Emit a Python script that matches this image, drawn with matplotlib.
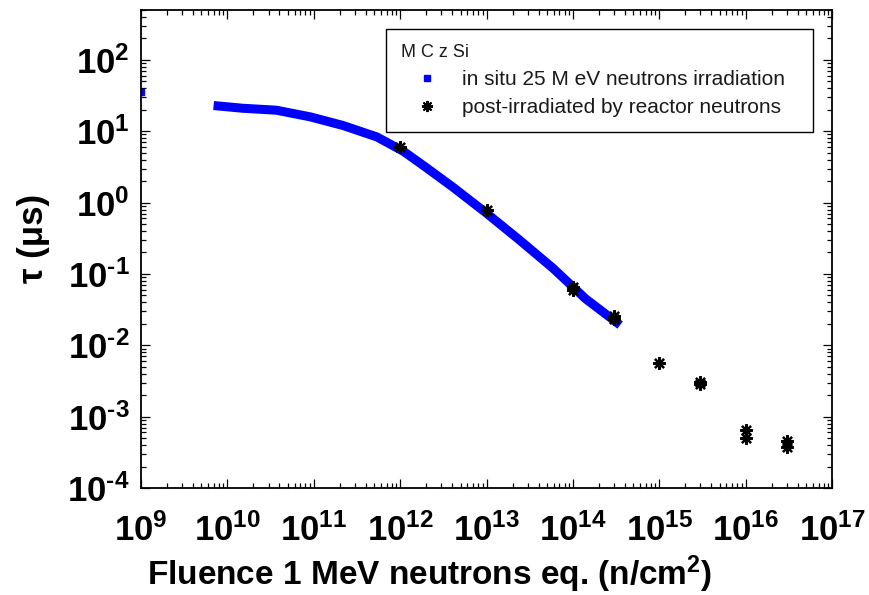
import numpy as np
import matplotlib
matplotlib.use('Agg')
import matplotlib.pyplot as plt
from matplotlib.lines import Line2D
from matplotlib.ticker import LogLocator, NullFormatter, FuncFormatter, FixedLocator

# in situ 25 MeV neutron irradiation
insitu_fluence = [7.8e9, 1.5e10, 3.7e10, 9.1e10, 2.2e11, 5.4e11, 1.1e12, 2.0e12,
                  4.1e12, 1.0e13, 2.4e13, 5.9e13, 1.4e14, 3.2e14]
insitu_tau = [22.6, 21.0, 19.7, 15.9, 12.0, 8.3, 5.2, 3.1,
              1.64, 0.71, 0.30, 0.12, 0.045, 0.021]
# lone point at the left edge
first_fluence = [1e9]
first_tau = [35]

# post-irradiated by reactor neutrons
reactor_fluence = [1e12, 1e13, 1e14, 1e14, 3e14, 3e14, 1e15, 3e15, 3e15, 1e16, 1e16, 3e16, 3e16]
reactor_tau = [6.1, 0.8, 0.065, 0.06, 0.026, 0.023, 0.0056, 0.0031, 0.0029,
               6.6e-4, 5.0e-4, 4.6e-4, 3.7e-4]

x_decades = [1e9, 1e10, 1e11, 1e12, 1e13, 1e14, 1e15, 1e16, 1e17]
y_decades = [1e-4, 1e-3, 1e-2, 1e-1, 1e0, 1e1, 1e2]

plt.rcParams['font.family'] = ['Liberation Sans', 'DejaVu Sans']
plt.rcParams['mathtext.fontset'] = 'custom'
plt.rcParams['mathtext.rm'] = 'Liberation Sans:bold'
plt.rcParams['mathtext.it'] = 'Liberation Sans:bold'
plt.rcParams['mathtext.bf'] = 'Liberation Sans:bold'

fig = plt.figure(figsize=(8.69, 5.95), dpi=100)
ax = fig.add_axes([0.1623, 0.1798, 0.7951, 0.8034])

star = (8, 2, 0)
ax.plot(insitu_fluence, insitu_tau, '-', color='#0000ff', lw=6.5,
        solid_capstyle='projecting', solid_joinstyle='round', zorder=2)
ax.plot(first_fluence, first_tau, 's', color='#0000ff', ms=5, zorder=2)
ax.plot(reactor_fluence, reactor_tau, ls='none', marker=star, color='black',
        ms=9, mew=1.6, zorder=3)

ax.set_xscale('log')
ax.set_yscale('log')
ax.set_xlim(1e9, 1e17)
ax.set_ylim(1e-4, 5e2)


def decade_label(v, pos):
    e = int(round(np.log10(v)))
    if e < 0:
        return r'$10^{\text{-}%d}$' % -e
    return r'$10^{%d}$' % e


for axis, majors in ((ax.xaxis, x_decades), (ax.yaxis, y_decades)):
    axis.set_major_locator(FixedLocator(majors))
    axis.set_minor_locator(LogLocator(base=10, subs=np.arange(2, 10), numticks=30))
    axis.set_minor_formatter(NullFormatter())
    axis.set_major_formatter(FuncFormatter(decade_label))

ax.tick_params(which='both', direction='in', top=True, right=True, width=0.9)
ax.tick_params(which='major', length=6.5, labelsize=25)
ax.tick_params(which='minor', length=3.5)
ax.tick_params(axis='x', pad=18)
ax.tick_params(axis='y', pad=8)
for s in ax.spines.values():
    s.set_linewidth(1.3)

ax.set_xlabel('Fluence 1 MeV neutrons eq. (n/cm$^2$)', fontsize=24, fontweight='bold')
ax.xaxis.set_label_coords(0.418, -0.136)
ax.set_ylabel('τ (μs)', fontsize=25, fontweight='bold')
ax.yaxis.set_label_coords(-0.132, 0.523)

handles = [
    Line2D([], [], ls='none', marker='s', color='#0000ff', ms=4),
    Line2D([], [], ls='none', marker=star, color='black', ms=8, mew=1.4),
]
leg = ax.legend(handles, ['in situ 25 M eV neutrons irradiation',
                          'post-irradiated by reactor neutrons'],
                title='M C z Si', loc='upper left',
                bbox_to_anchor=(0.3546, 0.757, 0.618, 0.203), mode='expand',
                borderaxespad=0, fontsize=15, title_fontsize=13,
                alignment='left', fancybox=False, framealpha=1,
                edgecolor='black', handlelength=2.54, handletextpad=0.41,
                labelspacing=0.45, borderpad=0.7)
leg.get_frame().set_linewidth(1.0)
for t in leg.get_texts():
    t.set_color('#1a1a1a')
leg.get_title().set_color('#1a1a1a')

fig.savefig('out.png', dpi=100)
